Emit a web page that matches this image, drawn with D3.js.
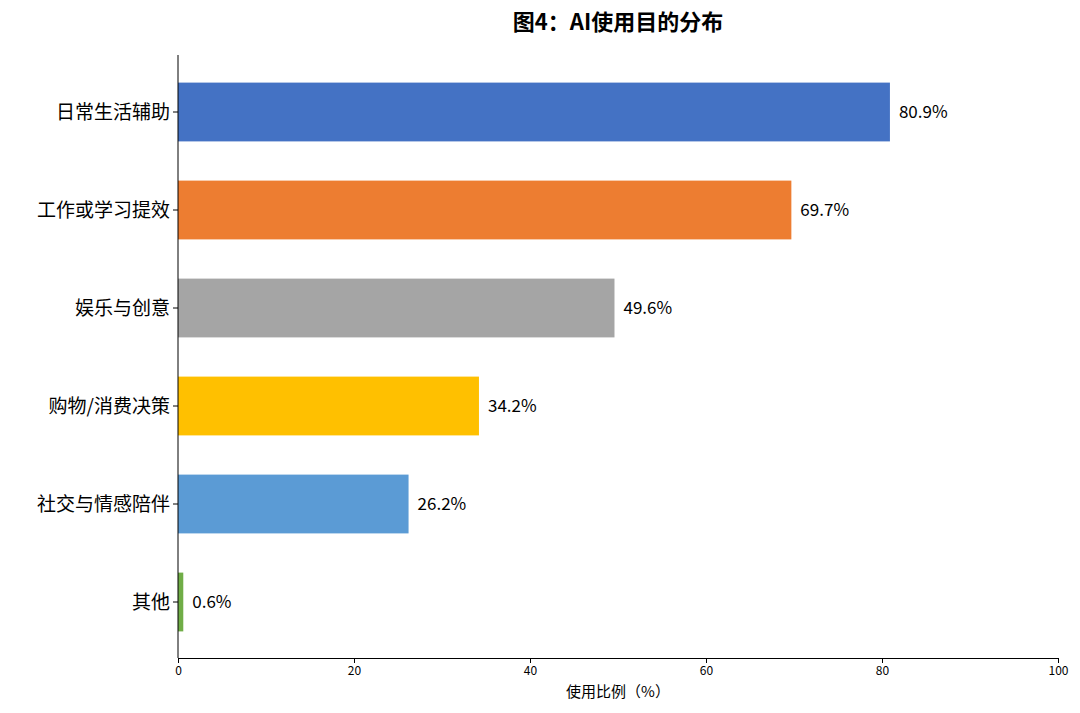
<!DOCTYPE html>
<html><head><meta charset="utf-8">
<script src="https://cdn.jsdelivr.net/npm/d3@7"></script>
<style>body{margin:0;background:#fff}text{font-family:"Noto Sans CJK SC",sans-serif}</style>
</head><body><svg id="c" width="1080" height="713"></svg>
<script>
const categories=["日常生活辅助","工作或学习提效","娱乐与创意","购物/消费决策","社交与情感陪伴","其他"];
const values=[80.9,69.7,49.6,34.2,26.2,0.6];
const colors=["#4472C4","#ED7D31","#A5A5A5","#FFC000","#5B9BD5","#70AD47"];
const xTicks=[0,20,40,60,80,100];
const svg=d3.select("#c");
const x=d3.scaleLinear().domain([0,100]).range([178,1058]);
const y=d3.scaleLinear().domain([0,5]).range([112,602]);
const bh=(y(1)-y(0))*0.6;
svg.selectAll("rect.b").data(values).join("rect")
 .attr("x",x(0)).attr("y",(d,i)=>y(i)-bh/2).attr("width",d=>x(d)-x(0)).attr("height",bh)
 .attr("fill",(d,i)=>colors[i]);
svg.selectAll("text.v").data(values).join("text")
 .attr("x",d=>x(d)+9).attr("y",(d,i)=>y(i)).attr("dy","0.35em")
 .attr("font-size",17).text(d=>d.toFixed(1)+"%");
svg.selectAll("text.c").data(categories).join("text")
 .attr("x",170).attr("y",(d,i)=>y(i)).attr("dy","0.35em").attr("text-anchor","end")
 .attr("font-size",19).text(d=>d);
svg.selectAll("line.yt").data(categories).join("line")
 .attr("x1",173).attr("x2",178).attr("y1",(d,i)=>y(i)).attr("y2",(d,i)=>y(i)).attr("stroke","#000");
const ax=svg.append("g").attr("transform","translate(0,658)").call(d3.axisBottom(x).tickValues(xTicks).tickSize(5).tickSizeOuter(0));
ax.selectAll("text").attr("font-size",12).attr("fill","#000");
ax.select(".domain").attr("stroke","#000");
svg.append("line").attr("x1",178).attr("x2",178).attr("y1",55).attr("y2",658).attr("stroke","#000");
svg.append("text").attr("x",618).attr("y",697).attr("text-anchor","middle").attr("font-size",15).text("使用比例（%）");
svg.append("text").attr("x",618).attr("y",30).attr("text-anchor","middle").attr("font-size",22).attr("font-weight","bold").text("图4：AI使用目的分布");
</script></body></html>
